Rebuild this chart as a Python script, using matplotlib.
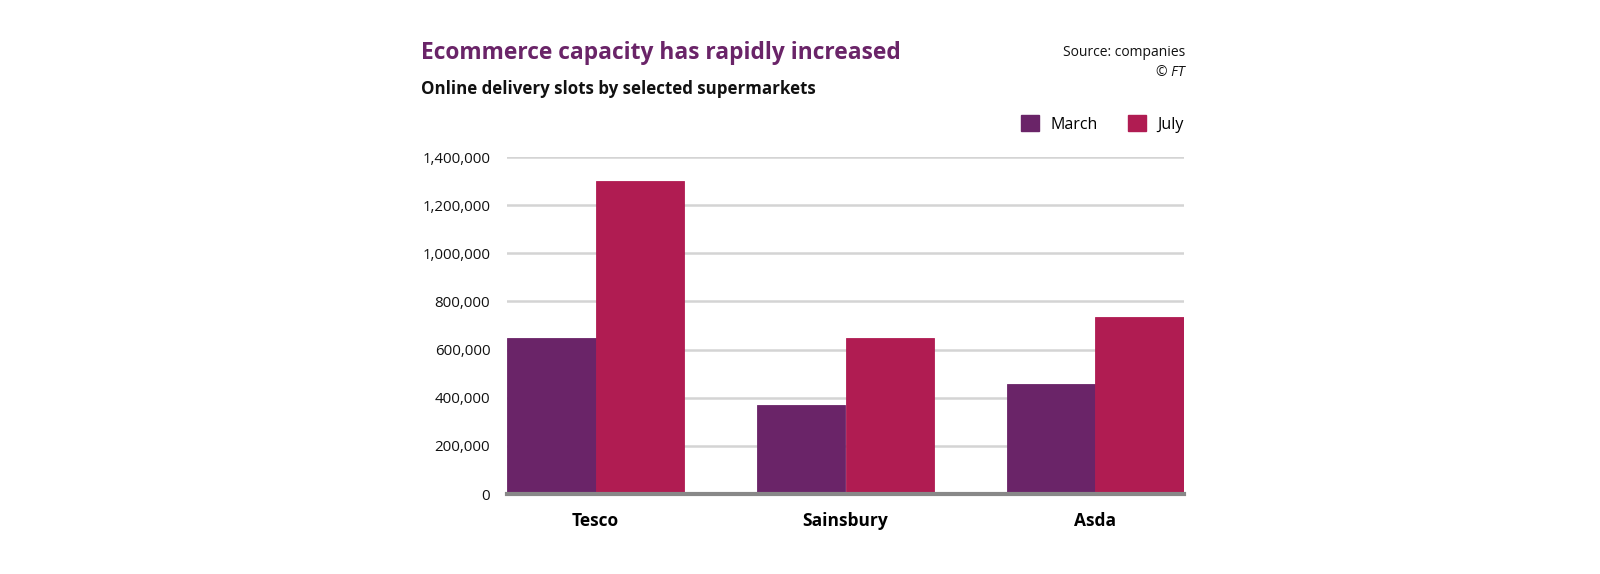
import matplotlib
matplotlib.use("Agg")
import matplotlib.pyplot as plt
import numpy as np
from matplotlib import ticker
from matplotlib.patches import Patch

plt.rcParams['font.family'] = ['Open Sans', 'DejaVu Sans']

## data
stores = ['Tesco', 'Sainsbury', 'Asda']
march = [650000, 370000, 455000]
july = [1300000, 650000, 735000]
yticks = [0, 200000, 400000, 600000, 800000, 1000000, 1200000, 1400000]

purple = '#6a2468'
crimson = '#b01c52'

fig = plt.figure(figsize=(16, 5.74), dpi=100)
ax = fig.add_axes([507 / 1600, 80 / 574, 677 / 1600, 337 / 574])

x = np.arange(len(stores))
w = 0.355
ax.bar(x - w / 2, march, width=w, color=purple, edgecolor=purple, linewidth=0.6,
       label='March', zorder=2)
ax.bar(x + w / 2, july, width=w, color=crimson, edgecolor=crimson, linewidth=0.6,
       label='July', zorder=2)

ax.set_xlim(-w, len(stores) - 1 + w)
ax.set_ylim(0, 1400000)
ax.set_yticks(yticks)
ax.yaxis.set_major_formatter(ticker.FuncFormatter(lambda v, p: f'{int(v):,}'))
ax.set_xticks(x)
ax.set_xticklabels(stores, fontsize=12.5, fontweight='bold')

ax.grid(axis='y', color='#d4d4d4', linewidth=1.8, zorder=0)
for s in ['top', 'right', 'left']:
    ax.spines[s].set_visible(False)
ax.spines['bottom'].set_color('#888888')
ax.spines['bottom'].set_linewidth(3)
ax.spines['bottom'].set_zorder(3)
ax.tick_params(axis='y', length=0, pad=12, labelsize=10.8, labelcolor='#111111')
ax.tick_params(axis='x', length=0, pad=13)

# header text
fig.text(421 / 1600, 1 - 53 / 574, 'Ecommerce capacity has rapidly increased',
         fontsize=16.4, fontweight='bold', color=purple, va='center', ha='left')
fig.text(421 / 1600, 1 - 89 / 574, 'Online delivery slots by selected supermarkets',
         fontsize=12.2, fontweight='bold', color='#111111', va='center', ha='left')
fig.text(1185 / 1600, 1 - 53 / 574, 'Source: companies',
         fontsize=10, color='#111111', va='center', ha='right')
fig.text(1185 / 1600, 1 - 72 / 574, '© FT',
         fontsize=10, style='italic', color='#111111', va='center', ha='right')

handles = [Patch(color=purple, label='March'), Patch(color=crimson, label='July')]
fig.legend(handles=handles, loc='center right', bbox_to_anchor=(1184 / 1600, 1 - 124 / 574),
           ncol=2, frameon=False, fontsize=11.5, handlelength=1.15, handleheight=1.15,
           handletextpad=0.7, columnspacing=1.9, borderpad=0, borderaxespad=0)

plt.savefig('out.png', dpi=100)
